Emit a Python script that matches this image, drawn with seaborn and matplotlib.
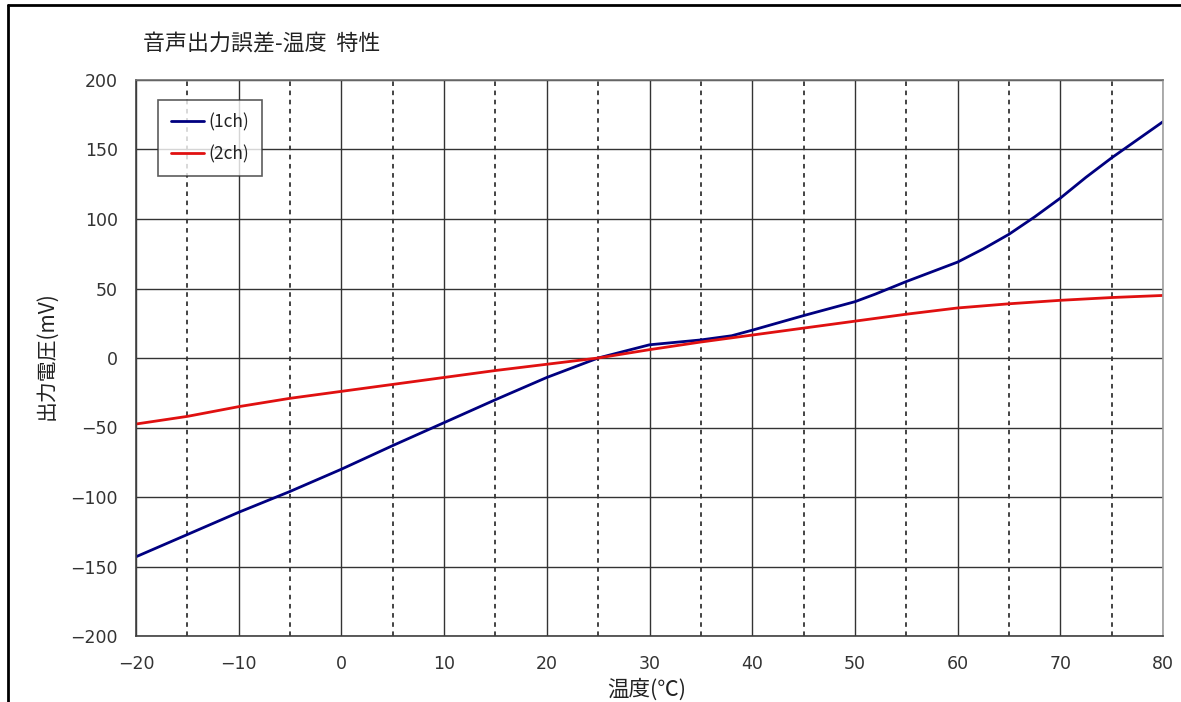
import matplotlib
matplotlib.use("Agg")
import matplotlib.pyplot as plt
from matplotlib.lines import Line2D
from matplotlib.ticker import MultipleLocator
import seaborn as sns
import pandas as pd

# Measured output error vs. temperature, two channels
temp_1ch = [-20, -15, -10, -5, 0, 5, 10, 15, 20, 25, 30, 35, 38, 40, 45, 50, 52, 55,
            57.5, 60, 62.5, 65, 67.5, 70, 72.5, 75, 80]
mv_1ch = [-143, -127, -111, -96, -80, -63, -46.5, -30, -14, 0, 9.5, 13, 16, 20, 30.5, 40.5, 46, 55,
          62, 69, 78.5, 89, 101.5, 115, 130, 144, 170]

temp_2ch = [-20, -15, -10, -5, 0, 5, 10, 15, 20, 25, 30, 35, 40, 45, 50, 55, 60, 65, 70, 75, 80]
mv_2ch = [-47.5, -42, -35, -29, -24, -19, -14, -9, -4.5, 0, 6, 11.5, 16.5, 21.5, 26.5, 31.5, 36, 39, 41.5, 43.5, 45]

labels = ["(1ch)", "(2ch)"]
colors = ["#000080", "#e01010"]

title = "音声出力誤差-温度  特性"
xlabel = "温度(℃)"
ylabel = "出力電圧(mV)"

x_ticks = list(range(-20, 81, 10))
y_ticks = list(range(-200, 201, 50))

df = pd.concat([
    pd.DataFrame({"temp": temp_1ch, "mV": mv_1ch, "ch": labels[0]}),
    pd.DataFrame({"temp": temp_2ch, "mV": mv_2ch, "ch": labels[1]}),
], ignore_index=True)

sns.set_theme(style="white")
plt.rcParams["font.family"] = ["Noto Sans CJK JP", "DejaVu Sans"]

W, H = 1181, 702
fig = plt.figure(figsize=(W / 100, H / 100), dpi=100)
fig.patch.set_facecolor("white")
ax = fig.add_axes([136 / W, 1 - 636 / H, (1163 - 136) / W, (636 - 80) / H])

sns.lineplot(data=df, x="temp", y="mV", hue="ch", palette=colors,
             linewidth=2.0, ax=ax, sort=True, estimator=None)

ax.set_xlim(-20, 80)
ax.set_ylim(-200, 200)
ax.xaxis.set_major_locator(MultipleLocator(10))
ax.xaxis.set_minor_locator(MultipleLocator(5))
ax.yaxis.set_major_locator(MultipleLocator(50))

ax.grid(which="major", axis="both", color="#333333", linewidth=1.0, linestyle="-")
ax.grid(which="minor", axis="x", color="#111111", linewidth=1.1, linestyle=(0, (3, 3)))
ax.set_axisbelow(True)

ax.tick_params(axis="both", which="both", length=0, labelcolor="#333333")
ax.tick_params(axis="y", pad=13)
ax.tick_params(axis="x", pad=14)
ax.set_xticks(x_ticks)
ax.set_xticklabels([str(v).replace("-", "−") for v in x_ticks],
                   family="DejaVu Sans", fontsize=12.5)
ax.set_yticks(y_ticks)
ax.set_yticklabels([str(v).replace("-", "−") for v in y_ticks],
                   family="DejaVu Sans", fontsize=12.5)

for side, col in [("left", "#404040"), ("bottom", "#404040"),
                  ("top", "#707070"), ("right", "#a0a0a0")]:
    ax.spines[side].set_visible(True)
    ax.spines[side].set_color(col)
    ax.spines[side].set_linewidth(1.2)

ax.set_xlabel(xlabel, fontsize=15.5, color="#222222")
ax.set_ylabel(ylabel, fontsize=15, color="#222222")
ax.xaxis.label.set_va("center")
ax.yaxis.label.set_va("center")
ax.xaxis.set_label_coords((647 - 136) / 1027, (636 - 690) / 556)
ax.yaxis.set_label_coords((46 - 136) / 1027, (636 - 356) / 556)

fig.text(143 / W, 1 - 44 / H, title, fontsize=15.8, color="#222222",
         ha="left", va="center")

leg = ax.legend(loc="upper left", bbox_to_anchor=((158 - 136) / 1027, (636 - 100) / 556),
                frameon=True, fancybox=False, shadow=False, fontsize=12.5,
                handlelength=1.9, handletextpad=0.25, borderpad=0.75,
                labelspacing=0.8, borderaxespad=0, title=None)
leg.get_frame().set_edgecolor("#333333")
leg.get_frame().set_linewidth(1.2)
for t in leg.get_texts():
    t.set_color("#222222")

# Outer frame of the sheet (left and top edges)
fig.add_artist(Line2D([7.5 / W, 7.5 / W], [0, 1 - 5 / H], transform=fig.transFigure,
                      color="black", linewidth=2))
fig.add_artist(Line2D([7.5 / W, 1], [1 - 5 / H, 1 - 5 / H], transform=fig.transFigure,
                      color="black", linewidth=2))

fig.savefig("out.png", dpi=100)
